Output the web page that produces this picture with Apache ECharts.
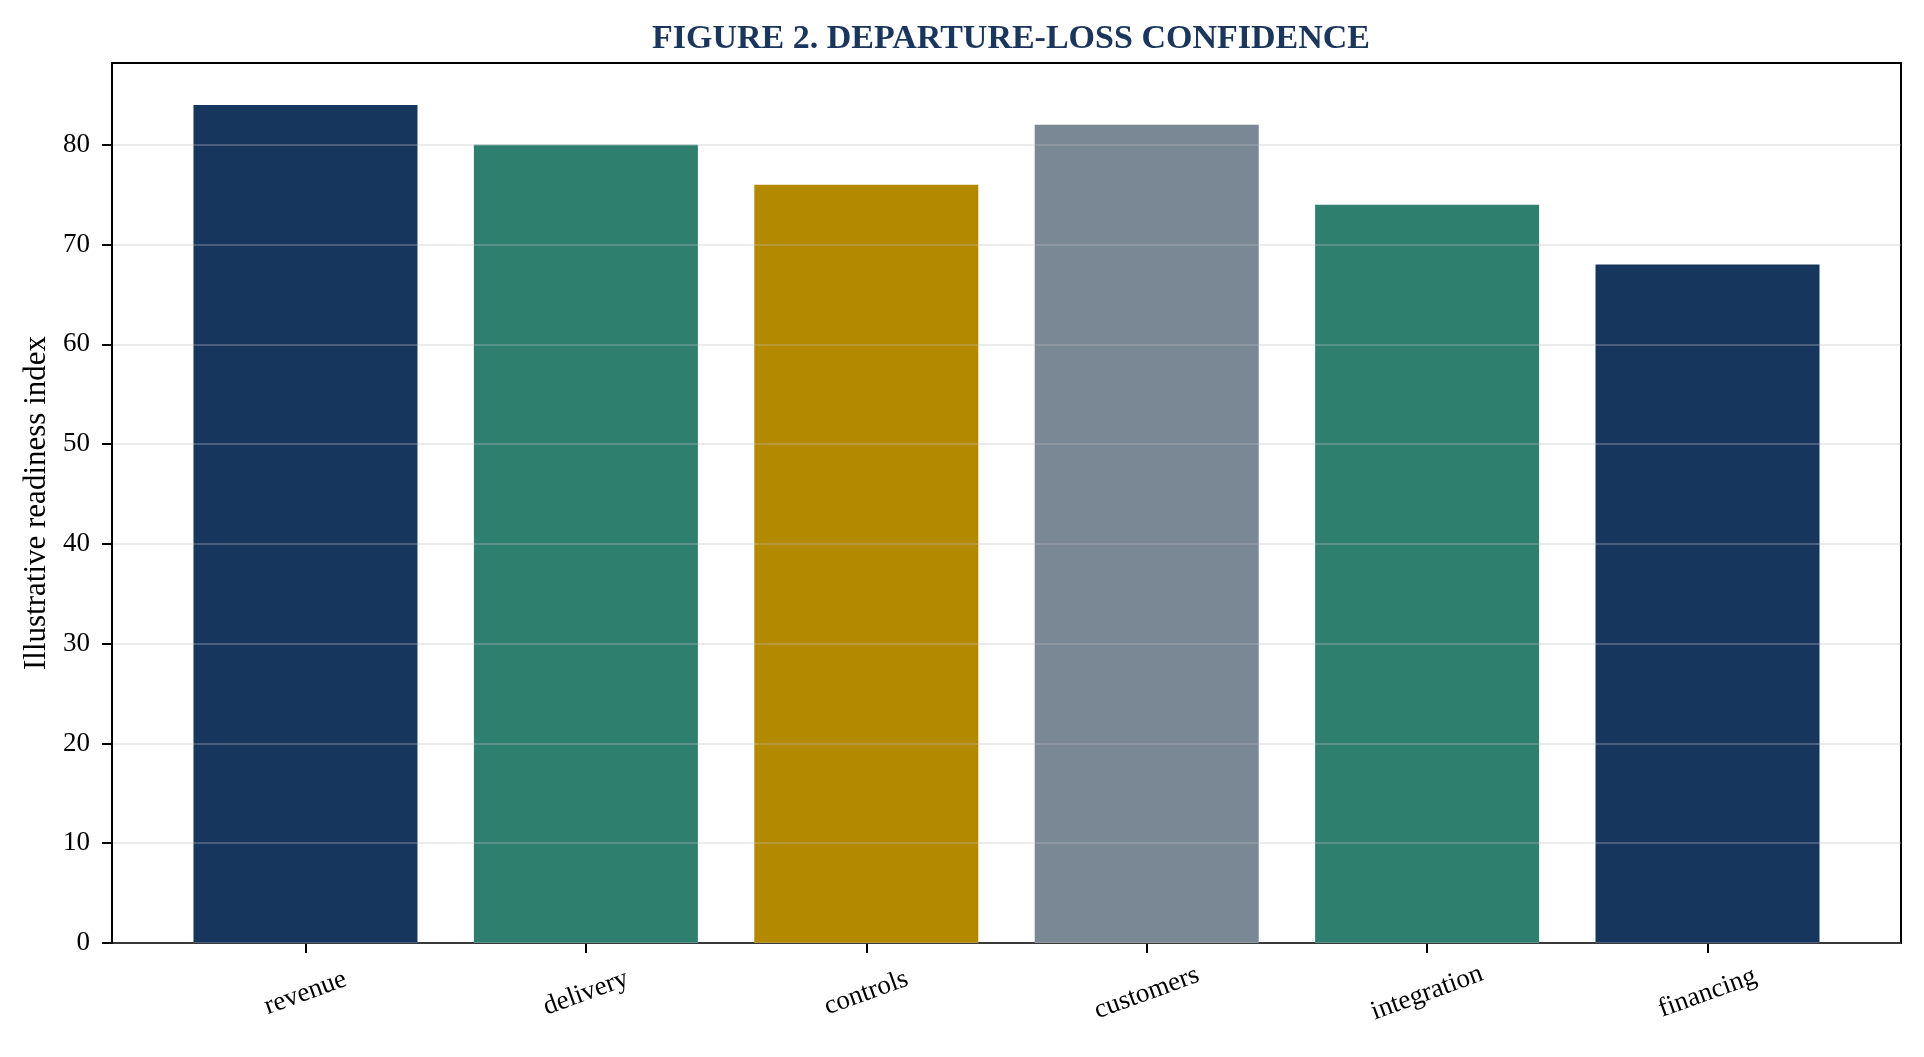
<!DOCTYPE html>
<html>
<head>
<meta charset="utf-8">
<script src="https://cdn.jsdelivr.net/npm/echarts@6/dist/echarts.min.js"></script>
<style>
html,body{margin:0;padding:0;background:#fff;}
#chart{width:1924px;height:1057px;}
</style>
</head>
<body>
<div id="chart"></div>
<script>
const categories = ['revenue', 'delivery', 'controls', 'customers', 'integration', 'financing'];
const values = [84, 80, 76, 82, 74, 68];
const yTicks = [0, 10, 20, 30, 40, 50, 60, 70, 80];
const titleText = 'FIGURE 2. DEPARTURE-LOSS CONFIDENCE';
const yAxisTitle = 'Illustrative readiness index';

const palette = ['#17365d', '#2f7f6f', '#b38900', '#7a8795', '#2f7f6f', '#17365d'];
const serif = '"Liberation Serif", "Times New Roman", Times, serif';
const xIdx = categories.map((c, i) => i);

const chart = echarts.init(document.getElementById('chart'), null, {renderer: 'canvas'});
chart.setOption({
  animation: false,
  backgroundColor: '#ffffff',
  title: {
    text: titleText,
    left: 1006,
    textAlign: 'center',
    top: 17,
    textStyle: {fontFamily: serif, fontWeight: 'bold', fontSize: 34, color: '#1b365d'}
  },
  grid: {
    left: 112, right: 23, top: 63, bottom: 114,
    show: true, borderColor: '#000', borderWidth: 2, backgroundColor: 'transparent'
  },
  xAxis: {
    type: 'value',
    min: -0.69,
    max: 5.69,
    splitLine: {show: false},
    axisLine: {show: true, onZero: false, lineStyle: {color: '#000', width: 2}},
    axisTick: {show: true, customValues: xIdx, length: 10, lineStyle: {color: '#000', width: 2}},
    axisLabel: {
      customValues: xIdx,
      formatter: v => categories[Math.round(v)],
      rotate: 20,
      align: 'center',
      verticalAlign: 'middle',
      margin: 50,
      fontFamily: serif, fontSize: 27, color: '#000'
    }
  },
  yAxis: {
    type: 'value',
    min: 0,
    max: 88.2,
    interval: 10,
    z: 3,
    name: yAxisTitle,
    nameLocation: 'middle',
    nameGap: 60,
    nameTextStyle: {fontFamily: serif, fontSize: 31, color: '#000'},
    axisLine: {show: true, onZero: false, lineStyle: {color: '#000', width: 2}},
    axisTick: {show: true, customValues: yTicks, length: 10, lineStyle: {color: '#000', width: 2}},
    axisLabel: {customValues: yTicks, margin: 22, fontFamily: serif, fontSize: 27, color: '#000'},
    splitLine: {show: true, lineStyle: {color: 'rgba(190,190,190,0.3)', width: 2}}
  },
  series: [{
    type: 'bar',
    barWidth: 224,
    z: 2,
    data: categories.map((c, i) => [i, values[i]]),
    itemStyle: {color: p => palette[p.dataIndex]}
  }]
});
</script>
</body>
</html>
